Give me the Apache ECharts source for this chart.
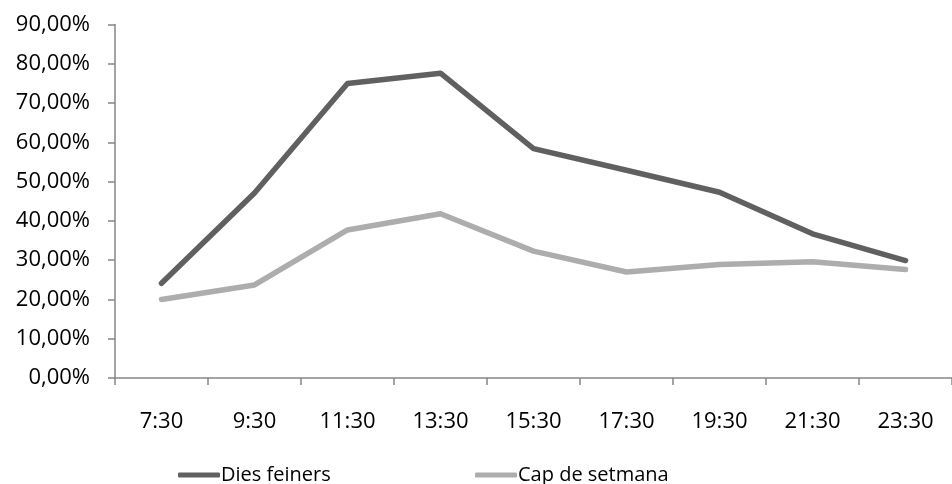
<!DOCTYPE html>
<html><head><meta charset="utf-8">
<script src="https://cdn.jsdelivr.net/npm/echarts@6/dist/echarts.min.js"></script>
<style>html,body{margin:0;padding:0;background:#fff}#c{width:952px;height:484px}</style>
</head><body><div id="c"></div>
<script>
const categories = ['7:30','9:30','11:30','13:30','15:30','17:30','19:30','21:30','23:30'];
const diesFeiners = [24.1, 47.1, 75.0, 77.6, 58.4, 52.9, 47.3, 36.7, 29.9];
const capDeSetmana = [20.0, 23.7, 37.7, 41.8, 32.3, 27.0, 28.9, 29.6, 27.6];
const seriesNames = ['Dies feiners', 'Cap de setmana'];
const FONT = 'Open Sans';
const FS = 22;
const chart = echarts.init(document.getElementById('c'));
const legendCommon = {
  top: 460, itemWidth: 42, itemHeight: 5, icon: 'roundRect',
  textStyle: { fontFamily: FONT, fontSize: 20, color: '#000', padding: [0,0,0,-4] }
};
chart.setOption({
  animation: false,
  backgroundColor: '#fff',
  grid: { left: 115, top: 24.5, width: 845, height: 353.5, containLabel: false },
  legend: [
    Object.assign({ left: 173, data: [seriesNames[0]] }, legendCommon),
    Object.assign({ left: 470, data: [seriesNames[1]] }, legendCommon)
  ],
  xAxis: {
    type: 'category', data: categories, boundaryGap: true,
    axisLine: { lineStyle: { color: '#868686', width: 1.5 } },
    axisTick: { show: true, length: 7, lineStyle: { color: '#868686', width: 1.5 } },
    axisLabel: { fontFamily: FONT, fontSize: FS, color: '#000', margin: 33 },
    splitLine: { show: false }
  },
  yAxis: {
    type: 'value', min: 0, max: 90, interval: 10,
    axisLine: { show: true, lineStyle: { color: '#868686', width: 1.5 } },
    axisTick: { show: true, length: 7, lineStyle: { color: '#868686', width: 1.5 } },
    axisLabel: { fontFamily: FONT, fontSize: FS, color: '#000', margin: 25,
      formatter: v => v.toFixed(2).replace('.', ',') + '%' },
    splitLine: { show: false }
  },
  series: [
    { name: seriesNames[0], type: 'line', data: diesFeiners, symbol: 'none',
      color: '#606060', lineStyle: { width: 5.5, color: '#606060', cap: 'round', join: 'round' } },
    { name: seriesNames[1], type: 'line', data: capDeSetmana, symbol: 'none',
      color: '#adadad', lineStyle: { width: 5.5, color: '#adadad', cap: 'round', join: 'round' } }
  ]
});
</script></body></html>
